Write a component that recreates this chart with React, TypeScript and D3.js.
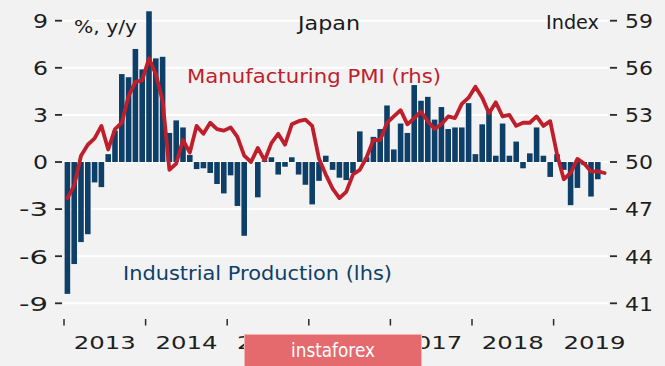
import React from "react";
import { select, scaleLinear, scaleBand, line, curveLinear } from "d3";

const years = ["2013", "2014", "2015", "2016", "2017", "2018", "2019"];
const monthNames = ["Jan", "Feb", "Mar", "Apr", "May", "Jun", "Jul", "Aug", "Sep", "Oct", "Nov", "Dec"];
// Jan 2013 .. Aug 2019
const months = years.flatMap((y) => monthNames.map((m) => `${m} ${y}`)).slice(0, 80);

// industrial production, % y/y (lhs) - last release Jul 2019
const industrialProduction = [
  -8.4, -6.5, -5.1, -4.6, -1.3, -1.6, 0.5, 2.0, 5.6, 5.4, 7.2, 5.9,
  9.6, 6.6, 6.7, 1.85, 2.65, 2.2, 0.45, -0.45, -0.4, -0.7, -1.4, -2.0,
  -0.85, -2.8, -4.7, 0.0, -2.25, 0.1, 0.3, -0.8, -0.3, 0.3, -0.8, -1.45,
  -2.7, -1.2, 0.4, -0.5, -1.0, -1.15, -0.7, 1.95, 0.3, 1.6, 2.1, 3.6,
  0.8, 2.45, 1.85, 4.9, 3.9, 4.15, 2.7, 3.5, 2.1, 2.2, 2.2, 3.75,
  0.5, 2.4, 3.3, 0.4, 2.45, 0.4, 1.3, -0.4, 0.55, 2.2, 0.4, -0.95,
  0.5, -0.5, -2.75, -1.65, -0.2, -2.2, -1.1,
];

// manufacturing PMI, index (rhs)
const manufacturingPmi = [
  47.7, 48.5, 50.4, 51.1, 51.5, 52.3, 50.8, 52.1, 52.5, 54.2, 55.1, 55.2,
  56.6, 55.6, 53.9, 49.5, 49.9, 51.4, 50.6, 52.3, 51.8, 52.5, 52.1, 52.0,
  52.2, 51.6, 50.4, 50.0, 50.9, 50.1, 51.2, 51.8, 51.1, 52.4, 52.6, 52.7,
  52.3, 50.2, 49.2, 48.3, 47.7, 48.1, 49.2, 49.5, 50.3, 51.4, 51.4, 52.5,
  52.9, 53.3, 52.4, 52.8, 53.2, 52.6, 52.1, 52.4, 52.9, 52.8, 53.7, 54.1,
  54.8, 54.1, 53.1, 53.8, 52.9, 53.0, 52.3, 52.5, 52.5, 52.9, 52.3, 52.6,
  50.5, 48.9, 49.3, 50.2, 49.9, 49.4, 49.4, 49.3,
];

const leftTicks = [9, 6, 3, 0, -3, -6, -9];
const rightTicks = [59, 56, 53, 50, 47, 44, 41];

const WIDTH = 665;
const HEIGHT = 366;
const FONT = "DejaVu Sans";
const BLUE = "#0d3f68";
const RED = "#bf1e2b";

function Chart() {
  const svgRef = React.useRef<SVGSVGElement>(null);

  React.useEffect(() => {
    const svg = select(svgRef.current);
    svg.selectAll("*").remove();

    const left = 64;
    const right = 608;
    const x = scaleBand<string>()
      .domain(months)
      .range([left, right])
      .paddingInner(0.18)
      .paddingOuter(0.09);
    const step = x.step();
    const monthX = scaleLinear().domain([0, months.length]).range([left, right]);
    const yLeft = scaleLinear().domain([-9, 9]).range([303.3, 20.7]);
    const yRight = scaleLinear().domain([41, 59]).range([303.3, 20.7]);

    svg.append("rect").attr("width", WIDTH).attr("height", HEIGHT).attr("fill", "#f2f2f2");

    // grid
    svg
      .selectAll(".grid")
      .data(leftTicks)
      .join("line")
      .attr("class", "grid")
      .attr("x1", left - 1)
      .attr("x2", right)
      .attr("y1", (d) => yLeft(d))
      .attr("y2", (d) => yLeft(d))
      .attr("stroke", "#ffffff")
      .attr("stroke-width", 2);

    // bars
    svg
      .selectAll(".bar")
      .data(industrialProduction)
      .join("rect")
      .attr("class", "bar")
      .attr("x", (d, i) => x(months[i]))
      .attr("width", x.bandwidth())
      .attr("y", (d) => yLeft(Math.max(0, d)))
      .attr("height", (d) => Math.abs(yLeft(d) - yLeft(0)))
      .attr("fill", BLUE);

    // PMI line
    const pmiLine = line<number>()
      .x((d, i) => x(months[i]) + x.bandwidth() / 2)
      .y((d) => yRight(d))
      .curve(curveLinear);
    svg
      .append("path")
      .datum(manufacturingPmi)
      .attr("d", pmiLine)
      .attr("fill", "none")
      .attr("stroke", RED)
      .attr("stroke-width", 3.8)
      .attr("stroke-linejoin", "round")
      .attr("stroke-linecap", "round");

    const addText = (
      txt: string,
      tx: number,
      ty: number,
      len: number,
      size: number,
      fill: string,
      anchor = "start"
    ) =>
      svg
        .append("text")
        .attr("x", tx)
        .attr("y", ty)
        .attr("font-family", FONT)
        .attr("font-size", size)
        .attr("fill", fill)
        .attr("text-anchor", anchor)
        .attr("textLength", len)
        .attr("lengthAdjust", "spacingAndGlyphs")
        .text(txt);

    // left axis
    leftTicks.forEach((t) => {
      svg
        .append("line")
        .attr("x1", 55)
        .attr("x2", 62)
        .attr("y1", yLeft(t))
        .attr("y2", yLeft(t))
        .attr("stroke", "#2a2a2a")
        .attr("stroke-width", 1.8);
      const label = String(t);
      const len = t < 0 ? 29 : 15;
      addText(label, 48, yLeft(t) + 7.3, len, 19, "#1e1e1e", "end");
    });

    // right axis
    rightTicks.forEach((t) => {
      svg
        .append("line")
        .attr("x1", 610)
        .attr("x2", 617)
        .attr("y1", yRight(t))
        .attr("y2", yRight(t))
        .attr("stroke", "#2a2a2a")
        .attr("stroke-width", 1.8);
      addText(String(t), 625, yRight(t) + 7.3, 28, 19, "#1e1e1e");
    });

    // year ticks + labels
    years.forEach((yr, k) => {
      const x0 = monthX(k * 12);
      svg
        .append("line")
        .attr("x1", x0)
        .attr("x2", x0)
        .attr("y1", 319)
        .attr("y2", 325.5)
        .attr("stroke", "#2a2a2a")
        .attr("stroke-width", 1.5);
      addText(yr, x0 + step * 6, 348.5, 62, 18, "#1e1e1e", "middle");
    });

    addText("%, y/y", 74, 33, 63, 18, "#1a1a1a");
    addText("Japan", 298, 30, 62, 19, "#1a1a1a");
    addText("Index", 546, 29, 53, 19, "#1a1a1a");
    addText("Manufacturing PMI (rhs)", 187, 83, 254, 19, RED);
    addText("Industrial Production (lhs)", 123, 280, 269, 19, BLUE);

    // watermark
    svg
      .append("rect")
      .attr("x", 244.5)
      .attr("y", 334.5)
      .attr("width", 177)
      .attr("height", 34)
      .attr("fill", "#e46a6e")
      .attr("stroke", "#f2b3b3")
      .attr("stroke-width", 1);
    addText("instaforex", 333, 357, 84, 20, "#ffffff", "middle");
  }, []);

  return (
    <div style={{ position: "absolute", left: 0, top: 0 }}>
      <svg ref={svgRef} width={WIDTH} height={HEIGHT} style={{ display: "block" }} />
    </div>
  );
}

export default function App() {
  return <Chart />;
}
